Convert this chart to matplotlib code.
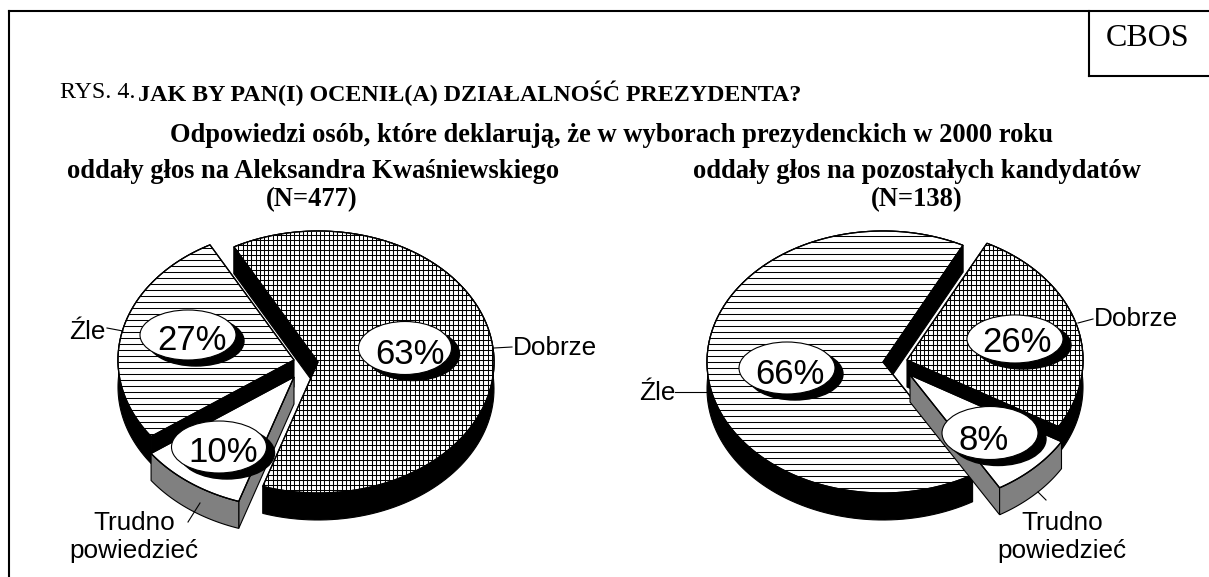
import numpy as np
import matplotlib
matplotlib.use("Agg")
import matplotlib.pyplot as plt
from matplotlib.patches import Polygon, Ellipse
from matplotlib.collections import LineCollection

# data
categories = ["Dobrze", "Trudno\npowiedzieć", "Źle"]
values_left = [63, 10, 27]
values_right = [26, 8, 66]
start_left = -28.5
start_right = 27

# layout, pixels
RX, RY, DEPTH = 176, 131, 27
centers_left = [(318, 362), (294, 377), (294, 360)]
centers_right = [(907, 360), (910, 375), (883, 362)]
bubbles_left = [(405, 348, 93, 53), (219, 447, 95, 52), (188, 335, 96, 50)]
bubbles_right = [(1015, 339, 96, 48), (990, 433, 96, 53), (787, 368, 96, 52)]
pct_left = [(410, 354), (223, 453), (192, 341)]
pct_right = [(1017, 342), (984, 440), (790, 375)]
wall_colors = ["black", "#808080", "black"]

fig = plt.figure(figsize=(12.09, 5.77), dpi=100)
ax = fig.add_axes([0, 0, 1, 1])
ax.set_xlim(0, 1209)
ax.set_ylim(577, 0)
ax.axis("off")


def rim(c, a):
    a = np.radians(a)
    return np.column_stack([c[0] + RX * np.sin(a), c[1] - RY * np.cos(a)])


def hatch(patch, ystep, xstep, z):
    x0, y0 = patch.get_xy().min(axis=0)
    x1, y1 = patch.get_xy().max(axis=0)
    segs = [[(x0, y), (x1, y)] for y in np.arange(230, y1, ystep)]
    if xstep:
        segs += [[(x, y0), (x, y1)] for x in np.arange(x0, x1, xstep)]
    lc = LineCollection(segs, colors="black", linewidths=0.75, zorder=z)
    ax.add_collection(lc)
    lc.set_clip_path(patch)


def draw_slice(c, a0, a1, wall, style, z):
    ang = np.linspace(a0, a1, 120)
    edge = rim(c, ang)
    down = np.array([0, DEPTH])
    mid = rim(c, (a0 + a1) / 2)[0] - c
    # only the cut faces that show below the top face
    for p in (edge[0], edge[-1]):
        d = p - c
        if np.cross(d, down) * np.cross(d, mid) < 0:
            quad = [c, p, p + down, np.array(c) + down]
            ax.add_patch(Polygon(quad, fc=wall, ec="black", lw=0.8, zorder=z))
    ax.add_patch(Polygon(np.vstack([edge, edge[::-1] + down]), fc=wall,
                         ec="black", lw=0.8, zorder=z))
    top = Polygon(np.vstack([[c], edge]), fc="white", ec="black", lw=0.9, zorder=z + 0.1)
    ax.add_patch(top)
    if style == "grid":
        hatch(top, 5, 4.3, z + 0.2)
    elif style == "lines":
        hatch(top, 6, 0, z + 0.2)
    ax.add_patch(Polygon(np.vstack([[c], edge]), fc="none", ec="black", lw=0.9, zorder=z + 0.3))


def draw_pie(values, start, centers, bubbles, pct, order):
    fr = np.cumsum([0] + values) * 3.6 + start
    styles = ["grid", "plain", "lines"]
    for i in range(3):
        draw_slice(centers[i], fr[i], fr[i + 1], wall_colors[i], styles[i], order[i])
    for v, (x, y, w, h), (tx, ty) in zip(values, bubbles, pct):
        ax.add_patch(Ellipse((x + 8, y + 6), w, h, fc="black", ec="black", zorder=10))
        ax.add_patch(Ellipse((x, y), w, h, fc="white", ec="black", lw=0.8, zorder=11))
        ax.text(tx, ty, f"{v}%", ha="center", va="center", fontsize=25,
                family="Liberation Sans", zorder=12)


draw_pie(values_left, start_left, centers_left, bubbles_left, pct_left, [2, 4, 1])
draw_pie(values_right, start_right, centers_right, bubbles_right, pct_right, [1, 4, 2])

# leader lines
leaders = [((494, 348), (512, 347)), ((123, 331), (107, 328)), ((200, 503), (188, 522)),
           ((1078, 323), (1093, 319)), ((707, 392), (675, 392)), ((1038, 492), (1046, 500))]
for a, b in leaders:
    ax.plot([a[0], b[0]], [a[1], b[1]], color="black", lw=0.8, zorder=5)

sans = dict(family="Liberation Sans", fontsize=18.8, va="center")
ax.text(513, 348, categories[0], ha="left", **sans)
ax.text(106, 332, categories[2], ha="right", **sans)
ax.text(134, 537, categories[1], ha="center", linespacing=1.2, **sans)
ax.text(1094, 319, categories[0], ha="left", **sans)
ax.text(675, 393, categories[2], ha="right", **sans)
ax.text(1062, 537, categories[1], ha="center", linespacing=1.2, **sans)

# titles
serif = dict(family="Liberation Serif", va="center")
ax.text(1148, 39, "CBOS", ha="center", fontsize=23, **serif)
ax.text(60, 93, "RYS. 4.", ha="left", fontsize=17.3, **serif)
ax.text(138, 93, "JAK BY PAN(I) OCENIŁ(A) DZIAŁALNOŚĆ PREZYDENTA?", ha="left",
        fontsize=17.3, fontweight="bold", **serif)
ax.text(612, 135, "Odpowiedzi osób, które deklarują, że w wyborach prezydenckich w 2000 roku",
        ha="center", fontsize=19.1, fontweight="bold", **serif)
ax.text(313, 171, "oddały głos na Aleksandra Kwaśniewskiego", ha="center", fontsize=19.1,
        fontweight="bold", **serif)
ax.text(312, 200, "(N=477)", ha="center", fontsize=19.1, fontweight="bold", **serif)
ax.text(917, 171, "oddały głos na pozostałych kandydatów", ha="center", fontsize=19.1,
        fontweight="bold", **serif)
ax.text(917, 200, "(N=138)", ha="center", fontsize=19.1, fontweight="bold", **serif)

# frame
frame = [((9, 577), (9, 11)), ((9, 11), (1209, 11)), ((1089, 11), (1089, 76)), ((1089, 76), (1209, 76))]
for a, b in frame:
    ax.plot([a[0], b[0]], [a[1], b[1]], color="black", lw=1.5, solid_capstyle="projecting")

fig.savefig("out.png", dpi=100)
